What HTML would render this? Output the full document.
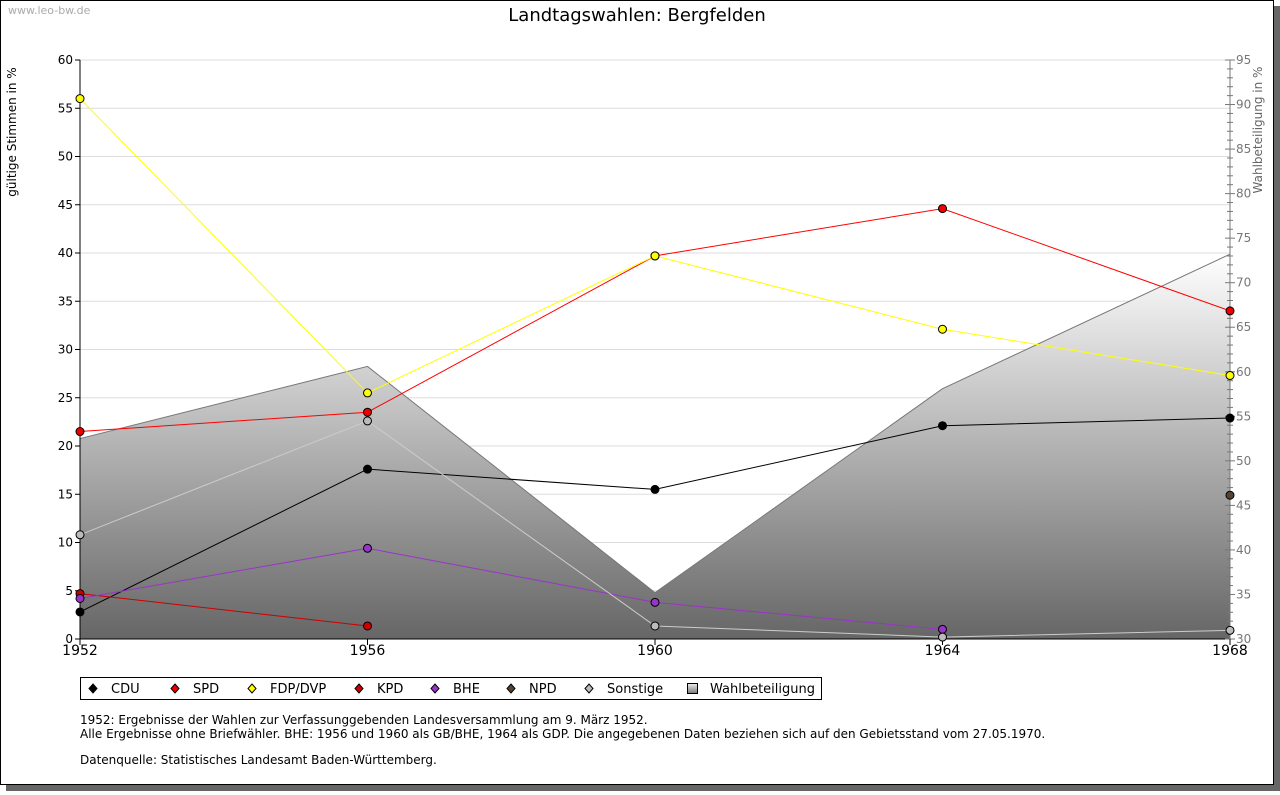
<!DOCTYPE html>
<html><head><meta charset="utf-8"><style>
body{margin:0;background:#fff;width:1280px;height:791px;overflow:hidden;font-family:"DejaVu Sans","Liberation Sans",sans-serif}
</style></head><body>
<svg id="c" width="1280" height="791" xmlns="http://www.w3.org/2000/svg">
<defs>
<linearGradient id="g" x1="0" y1="0" x2="0" y2="1" gradientUnits="objectBoundingBox">
<stop offset="0" stop-color="#ffffff"/><stop offset="1" stop-color="#666666"/></linearGradient>
<linearGradient id="gl" x1="0" y1="0" x2="0" y2="1"><stop offset="0" stop-color="#eee"/><stop offset="1" stop-color="#777"/></linearGradient>
</defs>
<rect x="6" y="6" width="1274" height="785" fill="#666"/>
<rect x="0.5" y="0.5" width="1273" height="784" fill="#fff" stroke="#000"/>
<text x="8" y="14" font-size="11" fill="#aaa">www.leo-bw.de</text>
<text x="637" y="21" font-size="18" text-anchor="middle">Landtagswahlen: Bergfelden</text>
<g id="plot"></g>
<text transform="translate(16,132) rotate(-90)" font-size="12" text-anchor="middle">gültige Stimmen in %</text>
<text transform="translate(1262,130) rotate(-90)" font-size="12" fill="#666" text-anchor="middle">Wahlbeteiligung in %</text>
<g>
<rect x="80.5" y="677.5" width="741" height="22" fill="#fff" stroke="#000"/>
<g id="leg"></g>
</g>
<g font-size="12">
<text x="80" y="724">1952: Ergebnisse der Wahlen zur Verfassunggebenden Landesversammlung am 9. März 1952.</text>
<text x="80" y="738">Alle Ergebnisse ohne Briefwähler. BHE: 1956 und 1960 als GB/BHE, 1964 als GDP. Die angegebenen Daten beziehen sich auf den Gebietsstand vom 27.05.1970.</text>
<text x="80" y="764">Datenquelle: Statistisches Landesamt Baden-Württemberg.</text>
</g>
</svg>
<script>
const years=[1952,1956,1960,1964,1968];
const cdu=[2.8,17.6,15.5,22.1,22.9];
const spd=[21.5,23.5,39.7,44.6,34.0];
const fdp=[56.0,25.5,39.7,32.1,27.3];
const kpd=[4.7,1.35,null,null,null];
const bhe=[4.2,9.4,3.8,1.0,null];
const npd=[null,null,null,null,14.9];
const sonst=[10.8,22.6,1.35,0.2,0.9];
const turnout=[52.5,60.6,35.2,58.1,73.2];
const leftTicks=[0,5,10,15,20,25,30,35,40,45,50,55,60];
const rightTicks=[30,35,40,45,50,55,60,65,70,75,80,85,90,95];
const NS="http://www.w3.org/2000/svg";
const X0=80,X1=1230,Y0=639,Y1=60;
const x=v=>X0+(v-1952)/(1968-1952)*(X1-X0);
const y=v=>Y0-v/60*(Y0-Y1);
const y2=v=>Y0-(v-30)/65*(Y0-Y1);
const plot=document.getElementById('plot');
function mk(t,a,p){const e=document.createElementNS(NS,t);for(const k in a)e.setAttribute(k,a[k]);(p||plot).appendChild(e);return e;}
// grid
leftTicks.forEach(t=>{if(t>0){const l=mk('line',{x1:X0,x2:X1,y1:y(t),y2:y(t),stroke:'#ddd'});

}
const tk=mk('line',{x1:X0-5,x2:X0,y1:y(t),y2:y(t),stroke:'#000'});


const tx=mk('text',{x:X0-7,y:y(t)+4,'font-size':12,'text-anchor':'end'});tx.textContent=t;

});
// turnout area
let d='M'+x(years[0])+','+Y0;years.forEach((yr,i)=>d+=' L'+x(yr)+','+y2(turnout[i]));d+=' L'+x(years[4])+','+Y0+'Z';
const ar=mk('path',{d:d,fill:'url(#g)'});


let d2='';years.forEach((yr,i)=>d2+=(i?' L':'M')+x(yr)+','+y2(turnout[i]));
const al=mk('path',{d:d2,fill:'none',stroke:'#777'});


// axes
mk('line',{x1:X0,x2:X0,y1:Y1,y2:Y0,stroke:'#000'});
mk('line',{x1:X0,x2:X1,y1:Y0,y2:Y0,stroke:'#000'});
mk('line',{x1:X1,x2:X1,y1:Y1,y2:Y0,stroke:'#777'});
for(let v=30;v<=95;v++){const big=v%5==0;mk('line',{x1:X1-(big?5:3),x2:X1+(big?5:3),y1:y2(v),y2:y2(v),stroke:'#777'});}
rightTicks.forEach(t=>{const tx=mk('text',{x:X1+6,y:y2(t)+4,'font-size':12,fill:'#777'});tx.textContent=t;

});
years.forEach(yr=>{mk('line',{x1:x(yr),x2:x(yr),y1:Y0,y2:Y0+6,stroke:'#000'});
const tx=mk('text',{x:x(yr),y:Y0+16,'font-size':14,'text-anchor':'middle'});tx.textContent=yr;

});
const series=[['cdu',cdu,'#000','#000'],['spd',spd,'#f00','#e00'],['fdp',fdp,'#ff0','#ff0'],['kpd',kpd,'#c00','#c00'],['bhe',bhe,'#93c','#93c'],['npd',npd,'#543','#543'],['sonstige',sonst,'#ccc','#bbb']];
series.forEach(([n,vals,lc,fc])=>{let p='';let started=false;
vals.forEach((v,i)=>{if(v==null){started=false;return;}p+=(started?' L':' M')+x(years[i])+','+y(v);started=true;});
const l=mk('path',{d:p,fill:'none',stroke:lc});


vals.forEach((v,i)=>{if(v==null)return;const c=mk('circle',{cx:x(years[i]),cy:y(v),r:4,fill:fc,stroke:'#000'});

});});
// legend
const leg=document.getElementById('leg');
const items=[['CDU','#000',90],['SPD','#e00',172],['FDP/DVP','#ff0',249],['KPD','#c00',356],['BHE','#93c',432],['NPD','#543',508],['Sonstige','#bbb',586]];
items.forEach(([t,c,px])=>{mk('path',{d:`M${px+3},684 L${px+7},688.5 L${px+3},693 L${px-1},688.5Z`,fill:c,stroke:'#000'},leg);
const tx=mk('text',{x:px+21,y:693,'font-size':13},leg);tx.textContent=t;

});
mk('rect',{x:687.5,y:683.5,width:10,height:10,fill:'url(#gl)',stroke:'#000'},leg);
const tw=mk('text',{x:710,y:693,'font-size':13},leg);tw.textContent='Wahlbeteiligung';


</script>
</body></html>
